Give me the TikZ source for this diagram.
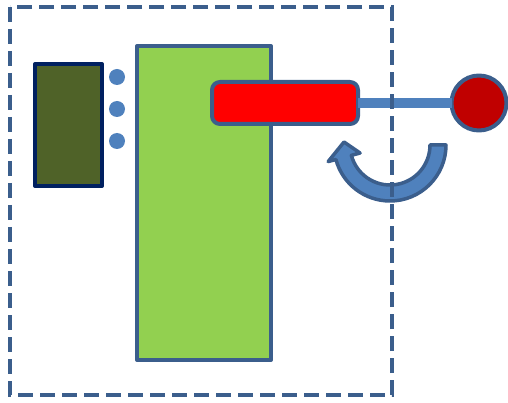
\documentclass[tikz,border=0pt]{standalone}
\usetikzlibrary{calc}
\definecolor{edgeblue}{HTML}{3B5E8C}
\definecolor{lightblue}{HTML}{4F81BD}
\definecolor{olive}{HTML}{4F6228}
\definecolor{navy}{HTML}{002060}
\definecolor{lgreen}{HTML}{92D050}
\definecolor{dred}{HTML}{C00000}
\tikzset{
  box/.style={draw=edgeblue,line width=4pt,line join=round,inner sep=0pt,outer sep=0pt},
  dot/.style={circle,fill=lightblue,inner sep=0pt,outer sep=0pt,minimum size=16pt},
}
\begin{document}
\begin{tikzpicture}[x=1pt,y=-1pt]
\useasboundingbox (0,0) rectangle (508,403);
% green tall rectangle
\node[box,fill=lgreen,minimum width=134pt,minimum height=314pt,anchor=north west] (green) at (137,46) {};
% olive rectangle
\node[box,draw=navy,fill=olive,minimum width=67pt,minimum height=122pt,anchor=north west] (olive) at (35,64) {};
% dots
\node[dot] (d1) at (117,77) {};
\node[dot] (d2) at (117,109) {};
\node[dot] (d3) at (117,141) {};
% red circle
\node[box,circle,fill=dred,minimum size=55pt] (ball) at (479,103) {};
% red bar
\node[box,fill=red,rounded corners=8pt,minimum width=146pt,minimum height=42pt,anchor=north west] (bar) at (212,82) {};
% connecting rod
\draw[lightblue,line width=10pt] (bar.east) -- (bar.east -| ball.west);
% curved arrow
\coordinate (c) at (390,145);
\filldraw[fill=lightblue,draw=edgeblue,line width=3.5pt,line join=round]
  ($(c)+(0:56)$) arc[start angle=0,end angle=165,radius=56]
  -- ($(c)+(165:64)$) -- (344,142) -- ($(c)+(165:31)$)
  -- ($(c)+(165:40)$) arc[start angle=165,end angle=0,radius=40] -- cycle;
% dashed boundary
\draw[edgeblue,line width=4.5pt,dash pattern=on 15pt off 7pt] (10,7) rectangle (392,395);
\end{tikzpicture}
\end{document}
